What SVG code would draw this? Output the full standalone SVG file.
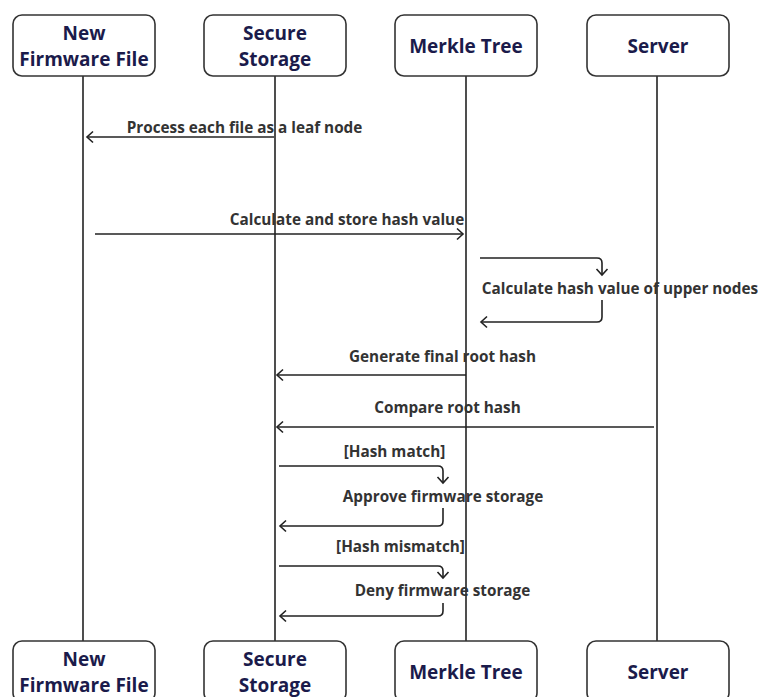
<svg xmlns="http://www.w3.org/2000/svg" width="758" height="697" viewBox="0 0 758 697">
<style>
.box{fill:#fff;stroke:#333;stroke-width:1.6}
.nt{font-family:"Open Sans","Liberation Sans",sans-serif;font-weight:700;font-size:19px;fill:#1b1b4b;text-anchor:middle}
.life{stroke:#222;stroke-width:1.6;fill:none}
.msg{stroke:#222;stroke-width:1.6;fill:none}
.mt{font-family:"Open Sans","Liberation Sans",sans-serif;font-weight:700;font-size:15.3px;fill:#333;text-anchor:middle}
</style>
<defs>
<marker id="ah" markerUnits="userSpaceOnUse" markerWidth="14" markerHeight="14" refX="9" refY="7" orient="auto">
<path d="M3,1.5 L9,7 L3,12.5" fill="none" stroke="#222" stroke-width="1.6"/>
</marker>
</defs>
<g id="lifelines">
<line class="life" x1="83" y1="76" x2="83" y2="641"/>
<line class="life" x1="275" y1="76" x2="275" y2="641"/>
<line class="life" x1="466" y1="76" x2="466" y2="641"/>
<line class="life" x1="657" y1="76" x2="657" y2="641"/>
</g>
<g id="node-firmware-top"><rect class="box" x="13" y="15" width="142" height="61" rx="9"/><text class="nt" x="84" y="40">New</text><text class="nt" x="84" y="66">Firmware File</text></g>
<g id="node-storage-top"><rect class="box" x="204" y="15" width="142" height="61" rx="9"/><text class="nt" x="275" y="40">Secure</text><text class="nt" x="275" y="66">Storage</text></g>
<g id="node-merkle-top"><rect class="box" x="395" y="15" width="142" height="61" rx="9"/><text class="nt" x="466" y="53">Merkle Tree</text></g>
<g id="node-server-top"><rect class="box" x="587" y="15" width="142" height="61" rx="9"/><text class="nt" x="658" y="53">Server</text></g>
<g id="node-firmware-bottom"><rect class="box" x="13" y="641" width="142" height="61" rx="9"/><text class="nt" x="84" y="666">New</text><text class="nt" x="84" y="692">Firmware File</text></g>
<g id="node-storage-bottom"><rect class="box" x="204" y="641" width="142" height="61" rx="9"/><text class="nt" x="275" y="666">Secure</text><text class="nt" x="275" y="692">Storage</text></g>
<g id="node-merkle-bottom"><rect class="box" x="395" y="641" width="142" height="61" rx="9"/><text class="nt" x="466" y="679">Merkle Tree</text></g>
<g id="node-server-bottom"><rect class="box" x="587" y="641" width="142" height="61" rx="9"/><text class="nt" x="658" y="679">Server</text></g>
<g id="connectors">
<path class="msg" d="M274,137 H87" marker-end="url(#ah)"/>
<path class="msg" d="M95,234 H463" marker-end="url(#ah)"/>
<path class="msg" d="M480,258 H597 Q602,258 602,263 V275" marker-end="url(#ah)"/>
<path class="msg" d="M602,300 V317 Q602,322 597,322 H481" marker-end="url(#ah)"/>
<path class="msg" d="M466,375 H277" marker-end="url(#ah)"/>
<path class="msg" d="M654,427 H277" marker-end="url(#ah)"/>
<path class="msg" d="M279,466 H438 Q443,466 443,471 V483" marker-end="url(#ah)"/>
<path class="msg" d="M443,508 V521 Q443,526 438,526 H280" marker-end="url(#ah)"/>
<path class="msg" d="M279,566 H438 Q443,566 443,571 V578" marker-end="url(#ah)"/>
<path class="msg" d="M443,603 V611 Q443,616 438,616 H280" marker-end="url(#ah)"/>
</g>
<g id="labels">
<text class="mt" x="244.5" y="133">Process each file as a leaf node</text>
<text class="mt" x="347" y="225">Calculate and store hash value</text>
<text class="mt" x="620" y="294">Calculate hash value of upper nodes</text>
<text class="mt" x="442.5" y="362">Generate final root hash</text>
<text class="mt" x="447.5" y="413">Compare root hash</text>
<text class="mt" x="394.5" y="457">[Hash match]</text>
<text class="mt" x="443" y="502">Approve firmware storage</text>
<text class="mt" x="400.5" y="552">[Hash mismatch]</text>
<text class="mt" x="442.5" y="596">Deny firmware storage</text>
</g>
</svg>
